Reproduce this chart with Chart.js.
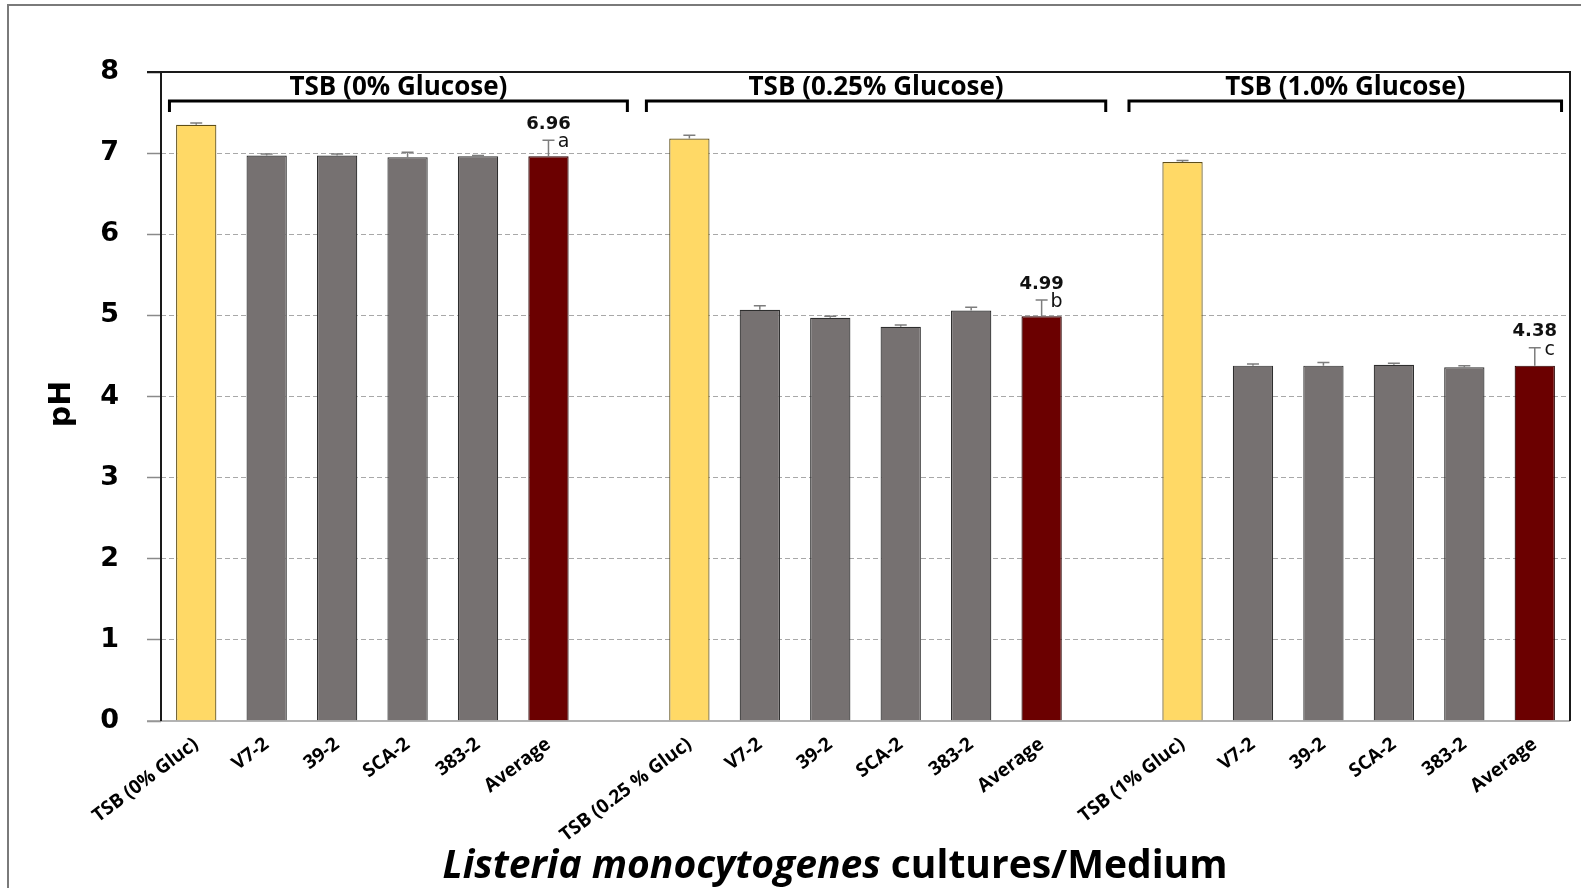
<!DOCTYPE html>
<html>
<head>
<meta charset="utf-8">
<script src="https://cdn.jsdelivr.net/npm/chart.js@4.4.1/dist/chart.umd.min.js"></script>
<style>
  html, body { margin: 0; padding: 0; background: #fff; }
  #wrap { position: relative; width: 1581px; height: 888px; }
</style>
</head>
<body>
<div id="wrap"><canvas id="chart" width="1581" height="888"></canvas></div>
<script>
// Final pH of Listeria monocytogenes cultures in TSB with 0, 0.25 and 1.0% glucose
const groupNames = ['TSB (0% Glucose)', 'TSB (0.25% Glucose)', 'TSB (1.0% Glucose)'];
const mediumLabels = ['TSB (0% Gluc)', 'TSB (0.25 % Gluc)', 'TSB (1% Gluc)'];
const strainLabels = ['V7-2', '39-2', 'SCA-2', '383-2', 'Average'];

const ph0 = [7.35, 6.97, 6.97, 6.95, 6.96, 6.96];
const ph025 = [7.18, 5.07, 4.97, 4.86, 5.06, 4.99];
const ph1 = [6.89, 4.38, 4.38, 4.39, 4.36, 4.38];

const sd0 = [0.02, 0.02, 0.02, 0.06, 0.01, 0.20];
const sd025 = [0.04, 0.05, 0.02, 0.02, 0.04, 0.20];
const sd1 = [0.02, 0.02, 0.04, 0.02, 0.02, 0.22];

const averageLabels = ['6.96', '4.99', '4.38'];
const groupLetters = ['a', 'b', 'c'];
const yTickValues = [0, 1, 2, 3, 4, 5, 6, 7, 8];

// Colours per bar kind
const COL_MEDIUM = '#FFD966', COL_MEDIUM_EDGE = '#5e4e18';
const COL_STRAIN = '#767171', COL_STRAIN_EDGE = '#2e2e2e';
const COL_AVG = '#6B0000', COL_AVG_EDGE = '#2a0000';

// Build the category axis: three groups of six bars with an empty slot between groups
const labels = [], values = [], errors = [], fills = [], edges = [];
const avgIndex = [];
[[ph0, sd0], [ph025, sd025], [ph1, sd1]].forEach(([vals, sds], g) => {
  if (g > 0) { labels.push(''); values.push(null); errors.push(null); fills.push('#fff'); edges.push('#fff'); }
  const names = [mediumLabels[g]].concat(strainLabels);
  names.forEach((n, k) => {
    labels.push(n);
    values.push(vals[k]);
    errors.push(sds[k]);
    fills.push(k === 0 ? COL_MEDIUM : (k === 5 ? COL_AVG : COL_STRAIN));
    edges.push(k === 0 ? COL_MEDIUM_EDGE : (k === 5 ? COL_AVG_EDGE : COL_STRAIN_EDGE));
    if (k === 5) avgIndex.push(labels.length - 1);
  });
});

// Bracket spans over each group, in category units
const bracketSpans = [[-0.38, 6.12], [6.39, 12.91], [13.24, 19.38]];

const FONT_VERDANA = '"DejaVu Sans", Verdana, sans-serif';
const FONT_SANS = '"Open Sans", "Noto Sans", sans-serif';

const decorations = {
  id: 'decorations',
  beforeDraw(chart) {
    const ctx = chart.ctx;
    ctx.save();
    ctx.fillStyle = '#fff';
    ctx.fillRect(0, 0, chart.width, chart.height);
    // figure frame
    ctx.strokeStyle = '#7a7a7a';
    ctx.lineWidth = 2;
    ctx.strokeRect(8, 5, chart.width + 20, chart.height + 20);
    ctx.restore();
  },
  afterDatasetsDraw(chart) {
    const ctx = chart.ctx;
    const a = chart.chartArea;
    const x = chart.scales.x, y = chart.scales.y;
    const meta = chart.getDatasetMeta(0);
    ctx.save();

    // plot frame
    ctx.strokeStyle = '#9a9a9a';
    ctx.lineWidth = 1.5;
    ctx.beginPath();
    ctx.moveTo(a.left - 14, a.bottom); ctx.lineTo(a.right, a.bottom);
    ctx.stroke();
    ctx.strokeStyle = '#1a1a1a';
    ctx.lineWidth = 2;
    ctx.beginPath();
    ctx.moveTo(a.left, a.bottom); ctx.lineTo(a.left, a.top);
    ctx.moveTo(a.left - 14, a.top); ctx.lineTo(a.right, a.top); ctx.lineTo(a.right, a.bottom);
    ctx.stroke();

    // error bars
    ctx.strokeStyle = '#7d7d7d';
    ctx.lineWidth = 1.5;
    errors.forEach((e, i) => {
      if (e == null || values[i] == null) return;
      const bar = meta.data[i];
      const cx = bar.x;
      const yTop = y.getPixelForValue(values[i] + e);
      const yBot = y.getPixelForValue(values[i]);
      ctx.beginPath();
      ctx.moveTo(cx, yBot); ctx.lineTo(cx, yTop);
      ctx.moveTo(cx - 6, yTop); ctx.lineTo(cx + 6, yTop);
      ctx.stroke();
    });

    // mean value and significance letters above the Average bars
    avgIndex.forEach((idx, g) => {
      const bar = meta.data[idx];
      const yTop = y.getPixelForValue(values[idx] + errors[idx]);
      ctx.fillStyle = '#111';
      ctx.textAlign = 'center';
      ctx.textBaseline = 'middle';
      ctx.font = 'bold 18px ' + FONT_VERDANA;
      ctx.fillText(averageLabels[g], bar.x, yTop - 16);
      ctx.font = '19px ' + FONT_VERDANA;
      ctx.fillText(groupLetters[g], bar.x + 15, yTop + 2);
    });

    // group brackets and titles
    ctx.strokeStyle = '#000';
    ctx.lineWidth = 3;
    ctx.lineJoin = 'miter';
    bracketSpans.forEach(([s, e], g) => {
      const x0 = x.getPixelForValue(s), x1 = x.getPixelForValue(e);
      const yb = a.top + 29;
      ctx.beginPath();
      ctx.moveTo(x0, yb + 11); ctx.lineTo(x0, yb); ctx.lineTo(x1, yb); ctx.lineTo(x1, yb + 11);
      ctx.stroke();
      ctx.fillStyle = '#000';
      ctx.font = 'bold 26px ' + FONT_SANS;
      ctx.textAlign = 'center';
      ctx.textBaseline = 'middle';
      ctx.fillText(groupNames[g], (x0 + x1) / 2, a.top + 16);
    });

    // y axis title
    ctx.save();
    ctx.translate(62, 404);
    ctx.rotate(-Math.PI / 2);
    ctx.font = 'bold 30px ' + FONT_VERDANA;
    ctx.textAlign = 'center';
    ctx.textBaseline = 'middle';
    ctx.fillStyle = '#000';
    ctx.fillText('pH', 0, 0);
    ctx.restore();

    // x axis title: italic species name followed by plain text
    const p1 = 'Listeria monocytogenes', p2 = ' cultures/Medium';
    const f1 = 'italic bold 39px ' + FONT_SANS, f2 = 'bold 39px ' + FONT_SANS;
    ctx.font = f1; const w1 = ctx.measureText(p1).width;
    ctx.font = f2; const w2 = ctx.measureText(p2).width;
    const cxT = 835, yT = 867;
    let sx = cxT - (w1 + w2) / 2;
    ctx.textAlign = 'left';
    ctx.textBaseline = 'middle';
    ctx.fillStyle = '#000';
    ctx.font = f1; ctx.fillText(p1, sx, yT);
    ctx.font = f2; ctx.fillText(p2, sx + w1, yT);

    ctx.restore();
  }
};

new Chart(document.getElementById('chart'), {
  type: 'bar',
  data: {
    labels: labels,
    datasets: [{
      data: values,
      backgroundColor: fills,
      borderColor: edges,
      borderWidth: 1.2,
      barPercentage: 0.572,
      categoryPercentage: 1.0
    }]
  },
  options: {
    responsive: false,
    animation: false,
    devicePixelRatio: 1,
    layout: { padding: { left: 0, top: 72, right: 11, bottom: 0 } },
    plugins: { legend: { display: false }, tooltip: { enabled: false } },
    scales: {
      x: {
        offset: true,
        grid: { display: false, drawTicks: false },
        border: { display: false },
        ticks: {
          autoSkip: false,
          minRotation: 37,
          maxRotation: 37,
          padding: 12,
          color: '#000',
          font: { family: FONT_SANS, size: 19, weight: 'bold' }
        },
        afterFit(scale) { scale.height = 167; }
      },
      y: {
        min: 0,
        max: 8,
        afterBuildTicks(scale) { scale.ticks = yTickValues.map(v => ({ value: v })); },
        grid: {
          color: (c) => (c.tick && (c.tick.value === 0 || c.tick.value === 8)) ? 'rgba(0,0,0,0)' : '#a8a8a8',
          lineWidth: 1,
          tickLength: 14,
          tickColor: (c) => (c.tick && c.tick.value === 8) ? '#1a1a1a' : '#8a8a8a',
          tickWidth: 1.5
        },
        border: { display: false, dash: [5, 3] },
        ticks: {
          padding: 28,
          color: '#000',
          font: { family: FONT_VERDANA, size: 27, weight: 'bold' }
        },
        afterFit(scale) { scale.width = 161; }
      }
    }
  },
  plugins: [decorations]
});
</script>
</body>
</html>
